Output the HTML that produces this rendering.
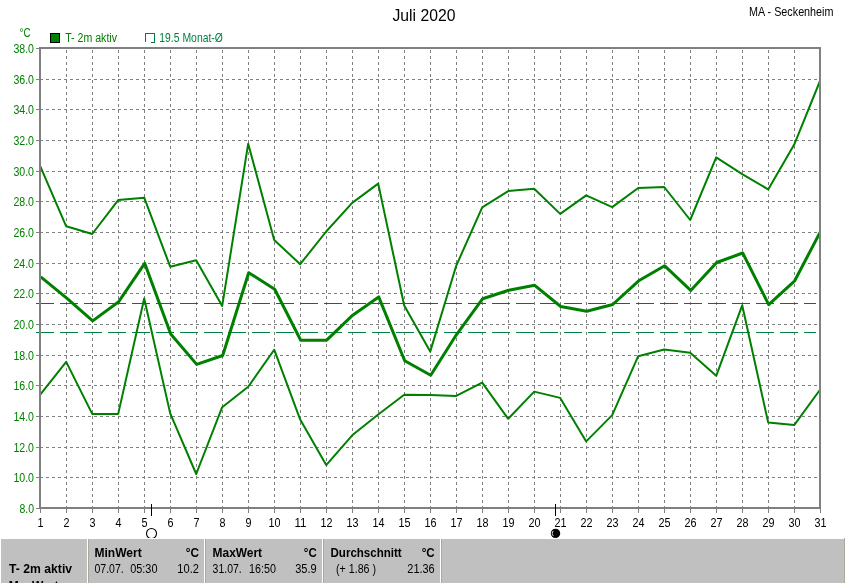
<!DOCTYPE html>
<html lang="de"><head><meta charset="utf-8"><title>Juli 2020 - MA - Seckenheim</title>
<style>
html,body{margin:0;padding:0;background:#fff;overflow:hidden}
body{width:845px;height:583px;position:relative}
svg{position:absolute;left:0;top:0;display:block}
text{font-family:"Liberation Sans",Arial,sans-serif;font-size:12.5px}
.b{font-weight:bold}
.g{fill:#008000}
.t{fill:#008040}
</style></head><body>
<svg width="845" height="583" viewBox="0 0 845 583">
<rect x="0" y="0" width="845" height="583" fill="#fff"/>

<g stroke="#808080" stroke-width="1" stroke-dasharray="3,3" shape-rendering="crispEdges" fill="none">
<line x1="66.5" y1="50" x2="66.5" y2="507"/>
<line x1="92.5" y1="50" x2="92.5" y2="507"/>
<line x1="118.5" y1="50" x2="118.5" y2="507"/>
<line x1="144.5" y1="50" x2="144.5" y2="507"/>
<line x1="170.5" y1="50" x2="170.5" y2="507"/>
<line x1="196.5" y1="50" x2="196.5" y2="507"/>
<line x1="222.5" y1="50" x2="222.5" y2="507"/>
<line x1="248.5" y1="50" x2="248.5" y2="507"/>
<line x1="274.5" y1="50" x2="274.5" y2="507"/>
<line x1="300.5" y1="50" x2="300.5" y2="507"/>
<line x1="326.5" y1="50" x2="326.5" y2="507"/>
<line x1="352.5" y1="50" x2="352.5" y2="507"/>
<line x1="378.5" y1="50" x2="378.5" y2="507"/>
<line x1="404.5" y1="50" x2="404.5" y2="507"/>
<line x1="430.5" y1="50" x2="430.5" y2="507"/>
<line x1="456.5" y1="50" x2="456.5" y2="507"/>
<line x1="482.5" y1="50" x2="482.5" y2="507"/>
<line x1="508.5" y1="50" x2="508.5" y2="507"/>
<line x1="534.5" y1="50" x2="534.5" y2="507"/>
<line x1="560.5" y1="50" x2="560.5" y2="507"/>
<line x1="586.5" y1="50" x2="586.5" y2="507"/>
<line x1="612.5" y1="50" x2="612.5" y2="507"/>
<line x1="638.5" y1="50" x2="638.5" y2="507"/>
<line x1="664.5" y1="50" x2="664.5" y2="507"/>
<line x1="690.5" y1="50" x2="690.5" y2="507"/>
<line x1="716.5" y1="50" x2="716.5" y2="507"/>
<line x1="742.5" y1="50" x2="742.5" y2="507"/>
<line x1="768.5" y1="50" x2="768.5" y2="507"/>
<line x1="794.5" y1="50" x2="794.5" y2="507"/>
<line x1="40" y1="79.5" x2="819" y2="79.5"/>
<line x1="40" y1="109.5" x2="819" y2="109.5"/>
<line x1="40" y1="140.5" x2="819" y2="140.5"/>
<line x1="40" y1="171.5" x2="819" y2="171.5"/>
<line x1="40" y1="201.5" x2="819" y2="201.5"/>
<line x1="40" y1="232.5" x2="819" y2="232.5"/>
<line x1="40" y1="263.5" x2="819" y2="263.5"/>
<line x1="40" y1="293.5" x2="819" y2="293.5"/>
<line x1="40" y1="324.5" x2="819" y2="324.5"/>
<line x1="40" y1="355.5" x2="819" y2="355.5"/>
<line x1="40" y1="385.5" x2="819" y2="385.5"/>
<line x1="40" y1="416.5" x2="819" y2="416.5"/>
<line x1="40" y1="447.5" x2="819" y2="447.5"/>
<line x1="40" y1="477.5" x2="819" y2="477.5"/>
</g>
<g stroke="#808080" stroke-width="1" shape-rendering="crispEdges">
<line x1="36" y1="48.5" x2="39" y2="48.5"/>
<line x1="36" y1="79.5" x2="39" y2="79.5"/>
<line x1="36" y1="109.5" x2="39" y2="109.5"/>
<line x1="36" y1="140.5" x2="39" y2="140.5"/>
<line x1="36" y1="171.5" x2="39" y2="171.5"/>
<line x1="36" y1="201.5" x2="39" y2="201.5"/>
<line x1="36" y1="232.5" x2="39" y2="232.5"/>
<line x1="36" y1="263.5" x2="39" y2="263.5"/>
<line x1="36" y1="293.5" x2="39" y2="293.5"/>
<line x1="36" y1="324.5" x2="39" y2="324.5"/>
<line x1="36" y1="355.5" x2="39" y2="355.5"/>
<line x1="36" y1="385.5" x2="39" y2="385.5"/>
<line x1="36" y1="416.5" x2="39" y2="416.5"/>
<line x1="36" y1="447.5" x2="39" y2="447.5"/>
<line x1="36" y1="477.5" x2="39" y2="477.5"/>
<line x1="36" y1="508.5" x2="39" y2="508.5"/>
<line x1="40.5" y1="509" x2="40.5" y2="513"/>
<line x1="66.5" y1="509" x2="66.5" y2="513"/>
<line x1="92.5" y1="509" x2="92.5" y2="513"/>
<line x1="118.5" y1="509" x2="118.5" y2="513"/>
<line x1="144.5" y1="509" x2="144.5" y2="513"/>
<line x1="170.5" y1="509" x2="170.5" y2="513"/>
<line x1="196.5" y1="509" x2="196.5" y2="513"/>
<line x1="222.5" y1="509" x2="222.5" y2="513"/>
<line x1="248.5" y1="509" x2="248.5" y2="513"/>
<line x1="274.5" y1="509" x2="274.5" y2="513"/>
<line x1="300.5" y1="509" x2="300.5" y2="513"/>
<line x1="326.5" y1="509" x2="326.5" y2="513"/>
<line x1="352.5" y1="509" x2="352.5" y2="513"/>
<line x1="378.5" y1="509" x2="378.5" y2="513"/>
<line x1="404.5" y1="509" x2="404.5" y2="513"/>
<line x1="430.5" y1="509" x2="430.5" y2="513"/>
<line x1="456.5" y1="509" x2="456.5" y2="513"/>
<line x1="482.5" y1="509" x2="482.5" y2="513"/>
<line x1="508.5" y1="509" x2="508.5" y2="513"/>
<line x1="534.5" y1="509" x2="534.5" y2="513"/>
<line x1="560.5" y1="509" x2="560.5" y2="513"/>
<line x1="586.5" y1="509" x2="586.5" y2="513"/>
<line x1="612.5" y1="509" x2="612.5" y2="513"/>
<line x1="638.5" y1="509" x2="638.5" y2="513"/>
<line x1="664.5" y1="509" x2="664.5" y2="513"/>
<line x1="690.5" y1="509" x2="690.5" y2="513"/>
<line x1="716.5" y1="509" x2="716.5" y2="513"/>
<line x1="742.5" y1="509" x2="742.5" y2="513"/>
<line x1="768.5" y1="509" x2="768.5" y2="513"/>
<line x1="794.5" y1="509" x2="794.5" y2="513"/>
<line x1="820.5" y1="509" x2="820.5" y2="513"/>
</g>
<line x1="36" y1="303.5" x2="816" y2="303.5" stroke="#008000" stroke-width="1" stroke-dasharray="18,6" shape-rendering="crispEdges"/>
<line x1="36" y1="332.5" x2="816" y2="332.5" stroke="#008040" stroke-width="1" stroke-dasharray="18,6" shape-rendering="crispEdges"/>
<clipPath id="pc"><rect x="39" y="47" width="782" height="462"/></clipPath>
<g fill="none" stroke="#008000" stroke-linejoin="round" stroke-linecap="butt" clip-path="url(#pc)">
<polyline stroke-width="2" points="40.2,166.1 66.2,226.3 92.2,234.0 118.2,200.1 144.2,197.7 170.2,266.7 196.2,260.2 222.2,305.9 248.2,143.7 274.2,240.0 300.2,264.2 326.2,231.5 352.2,202.9 378.2,183.6 404.2,305.5 430.2,351.6 456.2,265.8 482.2,207.3 508.2,191.1 534.2,188.7 560.2,213.9 586.2,195.4 612.2,207.1 638.2,188.0 664.2,187.0 690.2,220.0 716.2,157.4 742.2,174.1 768.2,189.4 794.2,144.6 820.2,80.5"/>
<polyline stroke-width="2" points="40.2,394.7 66.2,361.9 92.2,413.9 118.2,413.9 144.2,298.5 170.2,413.4 196.2,474.0 222.2,407.2 248.2,386.8 274.2,349.7 300.2,419.6 326.2,465.1 352.2,435.3 378.2,414.5 404.2,394.8 430.2,394.9 456.2,395.9 482.2,382.7 508.2,418.8 534.2,391.6 560.2,397.9 586.2,441.4 612.2,415.1 638.2,356.2 664.2,349.5 690.2,352.7 716.2,375.8 742.2,305.3 768.2,422.6 794.2,425.1 820.2,389.5"/>
<polyline stroke-width="3" points="40.7,276.8 66.7,298.2 92.7,320.9 118.7,301.7 144.7,263.3 170.7,334.0 196.7,364.4 222.7,355.5 248.7,272.7 274.7,289.2 300.7,340.2 326.7,340.2 352.7,315.2 378.7,296.9 404.7,360.7 430.7,375.3 456.7,334.3 482.7,298.7 508.7,290.2 534.7,285.3 560.7,306.5 586.7,311.2 612.7,304.5 638.7,280.8 664.7,265.8 690.7,290.4 716.7,262.5 742.7,253.0 768.7,304.6 794.7,280.8 820.7,231.1"/>
</g>
<rect x="40" y="48" width="780" height="460" fill="none" stroke="#808080" stroke-width="2" shape-rendering="crispEdges"/>
<text class="g" x="34" y="53" text-anchor="end" textLength="20.6" lengthAdjust="spacingAndGlyphs">38.0</text>
<text class="g" x="34" y="84" text-anchor="end" textLength="20.6" lengthAdjust="spacingAndGlyphs">36.0</text>
<text class="g" x="34" y="114" text-anchor="end" textLength="20.6" lengthAdjust="spacingAndGlyphs">34.0</text>
<text class="g" x="34" y="145" text-anchor="end" textLength="20.6" lengthAdjust="spacingAndGlyphs">32.0</text>
<text class="g" x="34" y="176" text-anchor="end" textLength="20.6" lengthAdjust="spacingAndGlyphs">30.0</text>
<text class="g" x="34" y="206" text-anchor="end" textLength="20.6" lengthAdjust="spacingAndGlyphs">28.0</text>
<text class="g" x="34" y="237" text-anchor="end" textLength="20.6" lengthAdjust="spacingAndGlyphs">26.0</text>
<text class="g" x="34" y="268" text-anchor="end" textLength="20.6" lengthAdjust="spacingAndGlyphs">24.0</text>
<text class="g" x="34" y="298" text-anchor="end" textLength="20.6" lengthAdjust="spacingAndGlyphs">22.0</text>
<text class="g" x="34" y="329" text-anchor="end" textLength="20.6" lengthAdjust="spacingAndGlyphs">20.0</text>
<text class="g" x="34" y="360" text-anchor="end" textLength="20.6" lengthAdjust="spacingAndGlyphs">18.0</text>
<text class="g" x="34" y="390" text-anchor="end" textLength="20.6" lengthAdjust="spacingAndGlyphs">16.0</text>
<text class="g" x="34" y="421" text-anchor="end" textLength="20.6" lengthAdjust="spacingAndGlyphs">14.0</text>
<text class="g" x="34" y="452" text-anchor="end" textLength="20.6" lengthAdjust="spacingAndGlyphs">12.0</text>
<text class="g" x="34" y="482" text-anchor="end" textLength="20.6" lengthAdjust="spacingAndGlyphs">10.0</text>
<text class="g" x="34" y="513" text-anchor="end" textLength="14.6" lengthAdjust="spacingAndGlyphs">8.0</text>
<text class="g" x="19.5" y="37" textLength="11" lengthAdjust="spacingAndGlyphs">°C</text>
<rect x="50.5" y="33.5" width="9" height="9" fill="#008000" stroke="#000" stroke-width="1" shape-rendering="crispEdges"/>
<text class="g" x="65.2" y="42" textLength="51.8" lengthAdjust="spacingAndGlyphs">T- 2m aktiv</text>
<path d="M145.5,42 V33.5 H154.5 V42.5 H151" fill="none" stroke="#008040" stroke-width="1" shape-rendering="crispEdges"/>
<text class="t" x="159.3" y="42" textLength="63.6" lengthAdjust="spacingAndGlyphs">19.5 Monat-Ø</text>
<text x="392.5" y="21" style="font-size:16.2px" textLength="63" lengthAdjust="spacingAndGlyphs">Juli 2020</text>
<text x="749" y="16" textLength="84.5" lengthAdjust="spacingAndGlyphs">MA - Seckenheim</text>
<text x="40.5" y="527" text-anchor="middle" textLength="6" lengthAdjust="spacingAndGlyphs">1</text>
<text x="66.5" y="527" text-anchor="middle" textLength="6" lengthAdjust="spacingAndGlyphs">2</text>
<text x="92.5" y="527" text-anchor="middle" textLength="6" lengthAdjust="spacingAndGlyphs">3</text>
<text x="118.5" y="527" text-anchor="middle" textLength="6" lengthAdjust="spacingAndGlyphs">4</text>
<text x="144.5" y="527" text-anchor="middle" textLength="6" lengthAdjust="spacingAndGlyphs">5</text>
<text x="170.5" y="527" text-anchor="middle" textLength="6" lengthAdjust="spacingAndGlyphs">6</text>
<text x="196.5" y="527" text-anchor="middle" textLength="6" lengthAdjust="spacingAndGlyphs">7</text>
<text x="222.5" y="527" text-anchor="middle" textLength="6" lengthAdjust="spacingAndGlyphs">8</text>
<text x="248.5" y="527" text-anchor="middle" textLength="6" lengthAdjust="spacingAndGlyphs">9</text>
<text x="274.5" y="527" text-anchor="middle" textLength="12" lengthAdjust="spacingAndGlyphs">10</text>
<text x="300.5" y="527" text-anchor="middle" textLength="12" lengthAdjust="spacingAndGlyphs">11</text>
<text x="326.5" y="527" text-anchor="middle" textLength="12" lengthAdjust="spacingAndGlyphs">12</text>
<text x="352.5" y="527" text-anchor="middle" textLength="12" lengthAdjust="spacingAndGlyphs">13</text>
<text x="378.5" y="527" text-anchor="middle" textLength="12" lengthAdjust="spacingAndGlyphs">14</text>
<text x="404.5" y="527" text-anchor="middle" textLength="12" lengthAdjust="spacingAndGlyphs">15</text>
<text x="430.5" y="527" text-anchor="middle" textLength="12" lengthAdjust="spacingAndGlyphs">16</text>
<text x="456.5" y="527" text-anchor="middle" textLength="12" lengthAdjust="spacingAndGlyphs">17</text>
<text x="482.5" y="527" text-anchor="middle" textLength="12" lengthAdjust="spacingAndGlyphs">18</text>
<text x="508.5" y="527" text-anchor="middle" textLength="12" lengthAdjust="spacingAndGlyphs">19</text>
<text x="534.5" y="527" text-anchor="middle" textLength="12" lengthAdjust="spacingAndGlyphs">20</text>
<text x="560.5" y="527" text-anchor="middle" textLength="12" lengthAdjust="spacingAndGlyphs">21</text>
<text x="586.5" y="527" text-anchor="middle" textLength="12" lengthAdjust="spacingAndGlyphs">22</text>
<text x="612.5" y="527" text-anchor="middle" textLength="12" lengthAdjust="spacingAndGlyphs">23</text>
<text x="638.5" y="527" text-anchor="middle" textLength="12" lengthAdjust="spacingAndGlyphs">24</text>
<text x="664.5" y="527" text-anchor="middle" textLength="12" lengthAdjust="spacingAndGlyphs">25</text>
<text x="690.5" y="527" text-anchor="middle" textLength="12" lengthAdjust="spacingAndGlyphs">26</text>
<text x="716.5" y="527" text-anchor="middle" textLength="12" lengthAdjust="spacingAndGlyphs">27</text>
<text x="742.5" y="527" text-anchor="middle" textLength="12" lengthAdjust="spacingAndGlyphs">28</text>
<text x="768.5" y="527" text-anchor="middle" textLength="12" lengthAdjust="spacingAndGlyphs">29</text>
<text x="794.5" y="527" text-anchor="middle" textLength="12" lengthAdjust="spacingAndGlyphs">30</text>
<text x="820.5" y="527" text-anchor="middle" textLength="12" lengthAdjust="spacingAndGlyphs">31</text>
<g shape-rendering="crispEdges" stroke="#000" stroke-width="1"><line x1="151.5" y1="504" x2="151.5" y2="516"/><line x1="555.5" y1="504" x2="555.5" y2="516"/></g>
<clipPath id="mc"><rect x="140" y="520" width="30" height="18"/></clipPath>
<circle cx="151.5" cy="533.5" r="5" fill="none" stroke="#000" stroke-width="1.1" clip-path="url(#mc)"/>
<circle cx="555.5" cy="533.4" r="4.7" fill="#000"/>
<path d="M553.38,530.87 A3.3,3.3 0 0 0 553.38,535.93" fill="none" stroke="#fff" stroke-width="0.9"/>
<rect x="1" y="539" width="843" height="44" fill="#c0c0c0"/>
<rect x="844" y="538" width="1" height="45" fill="#aca899"/>
<rect x="87" y="539" width="1" height="44" fill="#fff"/><rect x="88" y="539" width="1" height="44" fill="#aca899"/>
<rect x="204" y="539" width="1" height="44" fill="#fff"/><rect x="205" y="539" width="1" height="44" fill="#aca899"/>
<rect x="322" y="539" width="1" height="44" fill="#fff"/><rect x="323" y="539" width="1" height="44" fill="#aca899"/>
<rect x="440" y="539" width="1" height="44" fill="#fff"/><rect x="441" y="539" width="1" height="44" fill="#aca899"/>
<text class="b" x="9.1" y="573" textLength="63.0" lengthAdjust="spacingAndGlyphs" xml:space="preserve">T- 2m aktiv</text>
<text class="b" x="8.7" y="589.5" textLength="49.8" lengthAdjust="spacingAndGlyphs" xml:space="preserve">MaxWert</text>
<text class="b" x="94.5" y="557" textLength="47.2" lengthAdjust="spacingAndGlyphs" xml:space="preserve">MinWert</text>
<text class="b" x="185.7" y="557" textLength="13.2" lengthAdjust="spacingAndGlyphs" xml:space="preserve">°C</text>
<text x="94.5" y="573" textLength="29.2" lengthAdjust="spacingAndGlyphs" xml:space="preserve">07.07.</text>
<text x="130.2" y="573" textLength="27.3" lengthAdjust="spacingAndGlyphs" xml:space="preserve">05:30</text>
<text x="177.3" y="573" textLength="21.6" lengthAdjust="spacingAndGlyphs" xml:space="preserve">10.2</text>
<text class="b" x="212.6" y="557" textLength="49.5" lengthAdjust="spacingAndGlyphs" xml:space="preserve">MaxWert</text>
<text class="b" x="303.8" y="557" textLength="12.9" lengthAdjust="spacingAndGlyphs" xml:space="preserve">°C</text>
<text x="212.6" y="573" textLength="29.1" lengthAdjust="spacingAndGlyphs" xml:space="preserve">31.07.</text>
<text x="249.0" y="573" textLength="26.9" lengthAdjust="spacingAndGlyphs" xml:space="preserve">16:50</text>
<text x="295.2" y="573" textLength="21.5" lengthAdjust="spacingAndGlyphs" xml:space="preserve">35.9</text>
<text class="b" x="330.5" y="557" textLength="71.2" lengthAdjust="spacingAndGlyphs" xml:space="preserve">Durchschnitt</text>
<text class="b" x="421.7" y="557" textLength="13.0" lengthAdjust="spacingAndGlyphs" xml:space="preserve">°C</text>
<text x="336.0" y="573" textLength="40.0" lengthAdjust="spacingAndGlyphs" xml:space="preserve">(+ 1.86 )</text>
<text x="407.3" y="573" textLength="27.4" lengthAdjust="spacingAndGlyphs" xml:space="preserve">21.36</text>
</svg></body></html>
